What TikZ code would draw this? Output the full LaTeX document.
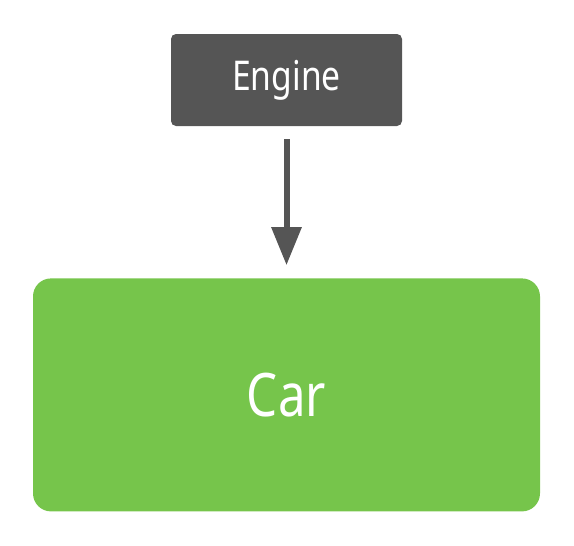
\documentclass[tikz,border=0pt]{standalone}
\usepackage{fontspec}
\setmainfont[FakeStretch=0.82]{Noto Sans}
\usetikzlibrary{positioning,arrows.meta}
\definecolor{darkbox}{HTML}{555555}
\definecolor{carfill}{HTML}{76C54B}
\tikzset{
  partbox/.style={fill=darkbox,rounded corners=5pt,minimum width=231pt,minimum height=92pt,
    text=white,font=\fontsize{41}{41}\selectfont,inner sep=0pt},
  wholebox/.style={fill=carfill,rounded corners=18pt,minimum width=507pt,minimum height=233pt,
    text=white,font=\fontsize{60}{60}\selectfont,inner sep=0pt},
  depln/.style={-{Triangle[length=38pt,width=29pt]},line width=6pt,draw=darkbox,
    shorten <=13pt,shorten >=13pt},
}
\begin{document}
\begin{tikzpicture}[x=1pt,y=-1pt]
  \useasboundingbox (0,0) rectangle (574,546);
  \node[partbox] (engine) at (286.5,80) {Engine};
  \node[wholebox,below=152pt of engine] (car) {Car};
  % engine is injected into car
  \draw[depln] (engine) -- (car);
\end{tikzpicture}
\end{document}
